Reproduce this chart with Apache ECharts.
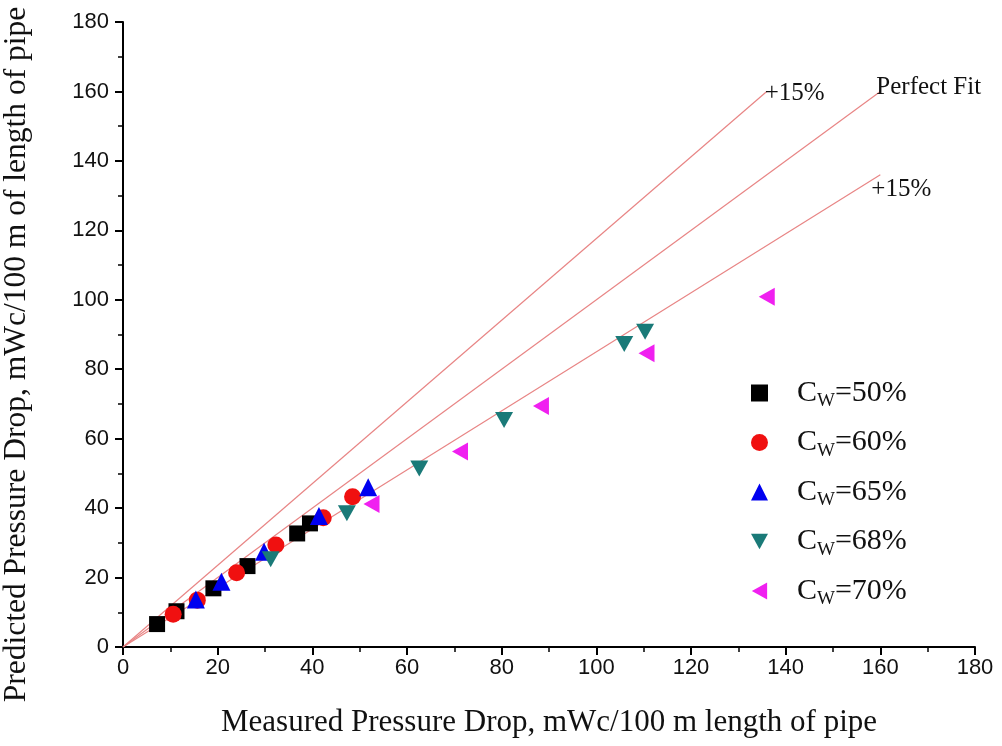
<!DOCTYPE html>
<html>
<head>
<meta charset="utf-8">
<script src="https://cdn.jsdelivr.net/npm/echarts@6/dist/echarts.min.js"></script>
<style>
  html, body { margin: 0; padding: 0; background: #fff; }
  #main { width: 1002px; height: 746px; }
</style>
</head>
<body>
<div id="main"></div>
<script>
// measured vs predicted [measured, predicted]
var cw50 = [[7.2, 6.6], [11.3, 10.3], [19.1, 16.9], [26.3, 23.3], [36.8, 32.7], [39.5, 35.6]];
var cw60 = [[10.6, 9.4], [15.7, 13.5], [24.0, 21.4], [32.3, 29.4], [42.3, 37.2], [48.5, 43.3]];
var cw65 = [[15.4, 13.7], [20.8, 18.8], [29.8, 27.4], [41.4, 37.7], [51.8, 46.0]];
var cw68 = [[31.2, 25.3], [47.3, 38.5], [62.6, 51.4], [80.5, 65.4], [105.9, 87.3], [110.3, 90.8]];
var cw70 = [[52.5, 41.2], [71.2, 56.3], [88.3, 69.4], [110.6, 84.6], [136.0, 100.9]];

var seriesNames = ['Cw=50%', 'Cw=60%', 'Cw=65%', 'Cw=68%', 'Cw=70%'];
var seriesColors = ['#000000', '#f01010', '#0000f0', '#1a7a78', '#f020f0'];

// reference lines: +15%, perfect fit, -15%
var upperLine = [[0, 0], [136, 160]];
var perfectLine = [[0, 0], [160, 160]];
var lowerLine = [[0, 0], [160, 136]];

var myChart = echarts.init(document.getElementById('main'));

var serif = '"Liberation Serif", "DejaVu Serif", serif';
var sans = '"Liberation Sans", Arial, sans-serif';

function scatter(idx, data, symbol, size){
    return {
        name: seriesNames[idx],
        type: 'scatter',
        data: data,
        symbol: symbol,
        symbolSize: size,
        itemStyle: { color: seriesColors[idx], opacity: 1 },
        z: 3
    };
}

function refLine(data, text, offset){
    return {
        type: 'line',
        data: data,
        showSymbol: false,
        symbol: 'none',
        silent: true,
        lineStyle: { color: '#e88585', width: 1.2 },
        endLabel: {
            show: true,
            formatter: text,
            offset: offset,
            distance: 0,
            color: '#111',
            fontFamily: serif,
            fontSize: 25
        },
        z: 1
    };
}

var option = {
    animation: false,
    backgroundColor: '#fff',
    grid: { left: 123, right: 27, top: 22, bottom: 99, containLabel: false, outerBoundsMode: 'none' },
    legend: {
        data: seriesNames,
        orient: 'vertical',
        left: 746,
        top: 370,
        itemWidth: 17,
        itemHeight: 17,
        itemGap: 13.5,
        formatter: function(name){
            return '{p|C}{s|W}{c|' + name.slice(2) + '}';
        },
        textStyle: {
            color: '#111',
            fontFamily: serif,
            rich: {
                p: { fontSize: 30, lineHeight: 32, fontFamily: serif, color: '#111', padding: [0, 0, 0, 24] },
                c: { fontSize: 30, lineHeight: 32, fontFamily: serif, color: '#111' },
                s: { fontSize: 19, lineHeight: 19, fontFamily: serif, color: '#111', padding: [17, 0, 0, 0] }
            }
        }
    },
    xAxis: {
        type: 'value',
        min: 0, max: 180, interval: 20,
        name: 'Measured Pressure Drop, mWc/100 m length of pipe',
        nameLocation: 'middle',
        nameGap: 60,
        nameTextStyle: { fontFamily: serif, fontSize: 31, color: '#111' },
        axisLine: { show: true, onZero: false, lineStyle: { color: '#000', width: 2 } },
        axisTick: { show: true, inside: false, length: 8, lineStyle: { width: 2 } },
        minorTick: { show: true, splitNumber: 2, length: 5, lineStyle: { color: '#000', width: 1.5 } },
        axisLabel: { fontFamily: sans, fontSize: 22, color: '#111', margin: 10 },
        splitLine: { show: false }
    },
    yAxis: {
        type: 'value',
        min: 0, max: 180, interval: 20,
        name: 'Predicted Pressure Drop, mWc/100 m of length of pipe',
        nameLocation: 'middle',
        nameGap: 90,
        nameTextStyle: { fontFamily: serif, fontSize: 31.5, color: '#111', padding: [0, 40, 0, 0] },
        axisLine: { show: true, onZero: false, lineStyle: { color: '#000', width: 2 } },
        axisTick: { show: true, inside: false, length: 8, lineStyle: { width: 2 } },
        minorTick: { show: true, splitNumber: 2, length: 5, lineStyle: { color: '#000', width: 1.5 } },
        axisLabel: { fontFamily: sans, fontSize: 22, color: '#111', margin: 14 },
        splitLine: { show: false }
    },
    series: [
        refLine(upperLine, '+15%', [-2, 2]),
        refLine(perfectLine, 'Perfect Fit', [-4, -4]),
        refLine(lowerLine, '+15%', [-9, 15]),
        scatter(0, cw50, 'rect', 16),
        scatter(1, cw60, 'circle', 17),
        scatter(2, cw65, 'triangle', 18),
        scatter(3, cw68, 'path://M0,0L10,0L5,9Z', [18, 16]),
        scatter(4, cw70, 'path://M10,0L10,10L1,5Z', [16, 18])
    ]
};
myChart.setOption(option);
window.onresize = myChart.resize;
</script>
</body>
</html>
